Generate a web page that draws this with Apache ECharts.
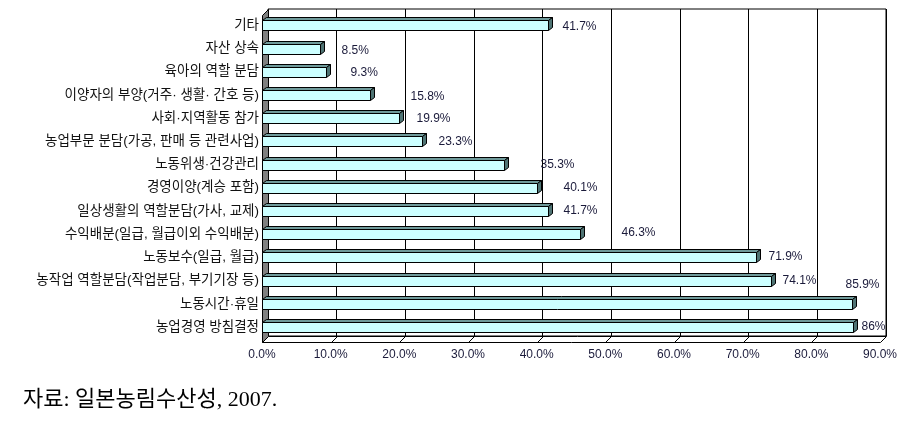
<!DOCTYPE html>
<html>
<head>
<meta charset="utf-8">
<script src="https://cdn.jsdelivr.net/npm/echarts@6/dist/echarts.min.js"></script>
<style>
html,body{margin:0;padding:0;background:#fff;}
#chart{width:916px;height:422px;}
</style>
</head>
<body>
<div id="chart"></div>
<script>
// ---- data ----
const categories = [
  '기타',
  '자산 상속',
  '육아의 역할 분담',
  '이양자의 부양(거주· 생활· 간호 등)',
  '사회·지역활동 참가',
  '농업부문 분담(가공, 판매 등 관련사업)',
  '노동위생·건강관리',
  '경영이양(계승 포함)',
  '일상생활의 역할분담(가사, 교제)',
  '수익배분(일급, 월급이외 수익배분)',
  '노동보수(일급, 월급)',
  '농작업 역할분담(작업분담, 부기기장 등)',
  '노동시간·휴일',
  '농업경영 방침결정'
];
const values = [41.7, 8.5, 9.3, 15.8, 19.9, 23.3, 35.3, 40.1, 41.7, 46.3, 71.9, 74.1, 85.9, 86];
const valueLabels = ['41.7%', '8.5%', '9.3%', '15.8%', '19.9%', '23.3%', '35.3%', '40.1%', '41.7%', '46.3%', '71.9%', '74.1%', '85.9%', '86%'];
const tickLabels = ['0.0%', '10.0%', '20.0%', '30.0%', '40.0%', '50.0%', '60.0%', '70.0%', '80.0%', '90.0%'];
const caption = '자료: 일본농림수산성, 2007.';

// ---- layout / style (not data) ----
const labelNudge = [[10,1],[17,2],[20,1],[36,2],[13,1],[12,0],[32,0],[22,0],[11,0],[37,-1],[8,-1],[7,0],[-11,-19],[4,0]];
const barDepth = [4, -3];
const barH = 10;
const frameDepth = [-6, 6];   // front of the 3D box relative to the back wall
const axisMin = 0, axisMax = 90, axisStep = 10;

const chart = echarts.init(document.getElementById('chart'), null, {renderer: 'canvas'});
const r = function (p) { return Math.round(p) + 0.5; };

function renderBar(params, api) {
  const v = api.value(0), idx = api.value(1);
  const s = api.coord([0, idx]);
  const e = api.coord([v, idx]);
  const x0 = r(s[0]);
  const x1 = r(e[0]);
  const top = r(e[1] - barH / 2);
  const bot = top + barH;
  const dx = barDepth[0], dy = barDepth[1];
  const n = labelNudge[idx] || [8, 0];
  return {
    type: 'group',
    children: [
      {type: 'polygon', shape: {points: [[x0, top], [x0 + dx, top + dy], [x1 + dx, top + dy], [x1, top]]},
        style: {fill: '#6f9a9a', stroke: '#000', lineWidth: 1}},
      {type: 'polygon', shape: {points: [[x1, top], [x1 + dx, top + dy], [x1 + dx, bot + dy], [x1, bot]]},
        style: {fill: '#4f7474', stroke: '#000', lineWidth: 1}},
      {type: 'rect', shape: {x: x0, y: top, width: x1 - x0, height: barH},
        style: {fill: '#ccffff', stroke: '#000', lineWidth: 1}},
      {type: 'text', style: {text: valueLabels[idx], x: x1 + dx + n[0], y: e[1] + n[1],
        fill: '#1a1a3a', fontSize: 12, fontFamily: '"Liberation Sans", Arial, sans-serif',
        align: 'left', verticalAlign: 'middle'}}
    ]
  };
}

// side wall + floor of the 3D box, drawn from the back-wall grid rectangle and x scale
function renderFrame(params, api) {
  const cs = params.coordSys;
  const L = cs.x, T = cs.y, B = cs.y + cs.height, R = cs.x + cs.width;
  const fx = frameDepth[0], fy = frameDepth[1];
  const children = [
    {type: 'rect', shape: {x: r(L + fx), y: r(T + fy), width: -fx, height: Math.round(B - T)},
      style: {fill: '#808080'}},
    {type: 'polygon', shape: {points: [[r(L + fx), r(T + fy)], [r(L), r(T)], [r(L), r(B)], [r(L + fx), r(B + fy)]]},
      style: {fill: '#808080', stroke: '#000', lineWidth: 1}},
    {type: 'polygon', shape: {points: [[r(L + fx), r(B + fy)], [r(L), r(B)], [r(R), r(B)], [r(R + fx), r(B + fy)]]},
      style: {fill: '#ffffff', stroke: '#000', lineWidth: 1}}
  ];
  for (let v = axisMin + axisStep; v < axisMax; v += axisStep) {
    const px = api.coord([v, 0])[0];
    children.push({type: 'line', shape: {x1: r(px + fx), y1: r(B + fy), x2: r(px), y2: r(B)},
      style: {stroke: '#000', lineWidth: 1}});
  }
  return {type: 'group', children: children};
}

chart.setOption({
  animation: false,
  backgroundColor: '#fff',
  grid: [
    {left: 268, right: 30, top: 9, bottom: 86, show: true, borderColor: '#000', borderWidth: 1, backgroundColor: '#fff', containLabel: false},
    {left: 268 + frameDepth[0], right: 30 - frameDepth[0], top: 13.7, bottom: 83.4, containLabel: false}
  ],
  xAxis: [
    {gridIndex: 0, type: 'value', min: axisMin, max: axisMax, interval: axisStep,
      axisLabel: {show: false}, axisLine: {show: false}, axisTick: {show: false},
      splitLine: {show: true, lineStyle: {color: '#000', width: 1}}},
    {gridIndex: 1, type: 'value', min: axisMin, max: axisMax, interval: axisStep,
      axisLine: {show: false}, axisTick: {show: false}, splitLine: {show: false}, splitArea: {show: false},
      axisLabel: {formatter: function (v) { return tickLabels[Math.round(v / axisStep)]; },
        fontSize: 12, color: '#1a1a3a', fontFamily: '"Liberation Sans", Arial, sans-serif', margin: 10}}
  ],
  yAxis: [
    {gridIndex: 0, type: 'value', min: 0, max: 1, show: false},
    {gridIndex: 1, type: 'category', data: categories, inverse: true,
      axisLine: {show: false}, axisTick: {show: false}, splitLine: {show: false}, splitArea: {show: false},
      axisLabel: {fontSize: 13.5, color: '#111', margin: 3, fontFamily: '"Liberation Sans", "Noto Sans CJK KR", sans-serif'}}
  ],
  series: [
    {
      type: 'custom',
      name: 'frame',
      xAxisIndex: 0,
      yAxisIndex: 0,
      z: 1,
      silent: true,
      clip: false,
      data: [[axisMin, 0]],
      encode: {x: 0, y: 1},
      renderItem: renderFrame
    },
    {
      type: 'custom',
      xAxisIndex: 1,
      yAxisIndex: 1,
      z: 5,
      clip: false,
      data: values.map(function (v, i) { return [v, i]; }),
      encode: {x: 0, y: 1},
      renderItem: renderBar
    }
  ],
  graphic: [
    {type: 'text', left: 23, top: 389,
      style: {text: caption, fill: '#000', fontSize: 22, fontFamily: '"Liberation Serif", "Noto Sans CJK KR", serif'}}
  ]
});
</script>
</body>
</html>
